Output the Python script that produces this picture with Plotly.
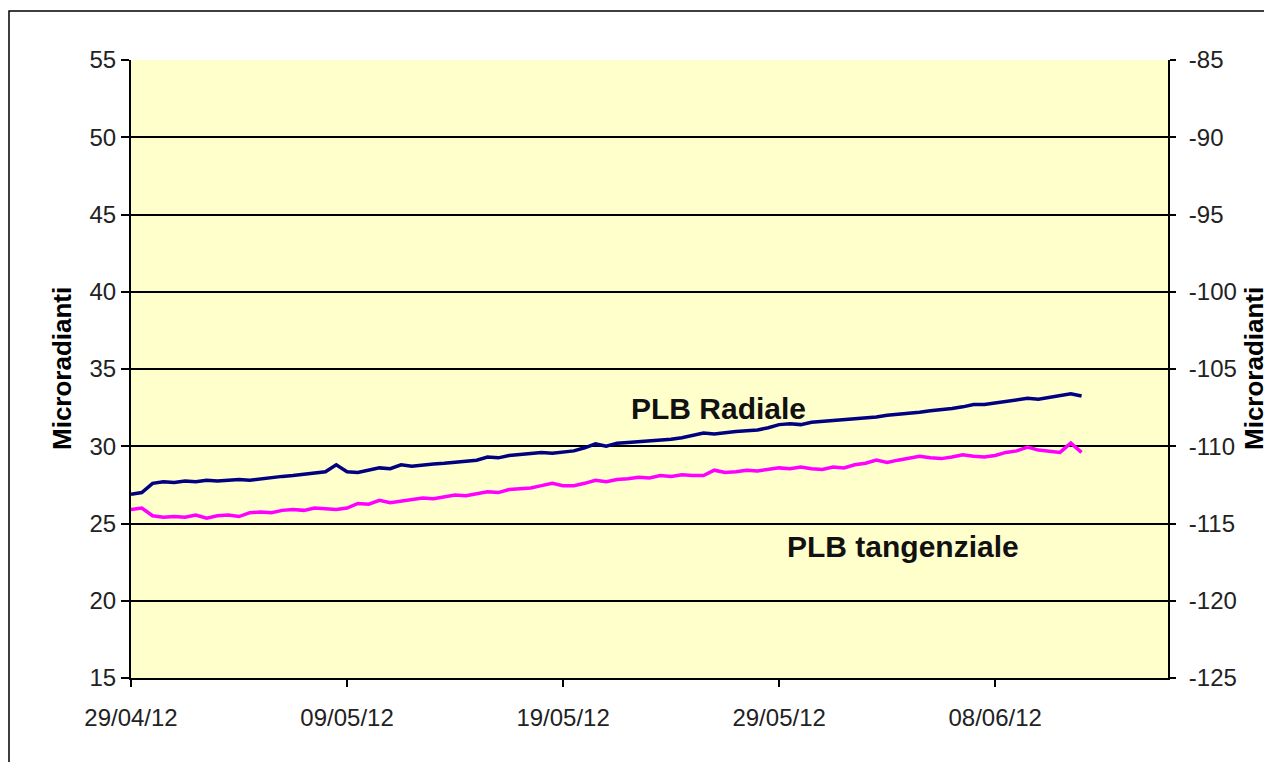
import plotly.graph_objects as go
import pandas as pd

# half-day sampling timestamps, from 29/04/12 00:00
start = pd.Timestamp("2012-04-29")
radiale = [26.9, 27.0, 27.6, 27.7, 27.65, 27.75, 27.7, 27.8, 27.75, 27.8,
           27.85, 27.8, 27.9, 27.95, 28.05, 28.1, 28.2, 28.3, 28.35, 28.8,
           28.35, 28.3, 28.45, 28.6, 28.55, 28.8, 28.7, 28.8, 28.85, 28.9,
           28.95, 29.05, 29.1, 29.3, 29.25, 29.4, 29.45, 29.5, 29.6, 29.55,
           29.6, 29.7, 29.9, 30.15, 30.0, 30.2, 30.25, 30.3, 30.3, 30.4,
           30.45, 30.55, 30.7, 30.85, 30.8, 30.9, 30.95, 31.0, 31.05, 31.2,
           31.4, 31.45, 31.4, 31.55, 31.6, 31.65, 31.7, 31.75, 31.85, 31.9,
           32.0, 32.05, 32.15, 32.2, 32.3, 32.35, 32.45, 32.55, 32.7, 32.7,
           32.8, 32.9, 32.95, 33.1, 33.05, 33.15, 33.3, 33.4, 33.25]
tangenziale = [25.9, 26.0, 25.5, 25.4, 25.45, 25.4, 25.55, 25.35, 25.5, 25.55,
               25.45, 25.7, 25.75, 25.7, 25.85, 25.9, 25.85, 26.0, 25.95, 25.9,
               26.0, 26.3, 26.25, 26.5, 26.35, 26.45, 26.55, 26.65, 26.6, 26.75,
               26.85, 26.8, 26.95, 27.05, 27.0, 27.2, 27.25, 27.3, 27.45, 27.6,
               27.45, 27.45, 27.6, 27.8, 27.7, 27.85, 27.9, 28.0, 27.95, 28.1,
               28.05, 28.15, 28.1, 28.1, 28.45, 28.3, 28.35, 28.45, 28.4, 28.5,
               28.6, 28.55, 28.65, 28.55, 28.5, 28.65, 28.6, 28.8, 28.9, 29.1,
               28.95, 29.1, 29.2, 29.35, 29.25, 29.2, 29.3, 29.45, 29.35, 29.3,
               29.4, 29.6, 29.7, 29.95, 29.75, 29.7, 29.6, 30.2, 29.6]
dates = [start + pd.Timedelta(hours=12 * i) for i in range(len(radiale))]

x_tickvals = ["2012-04-29", "2012-05-09", "2012-05-19", "2012-05-29", "2012-06-08"]
x_ticktext = ["29/04/12", "09/05/12", "19/05/12", "29/05/12", "08/06/12"]
left_ticks = [15, 20, 25, 30, 35, 40, 45, 50, 55]
right_ticks = [-125, -120, -115, -110, -105, -100, -95, -90, -85]
right_text = ["-125", "-120", "-115", "-110", "-105", "-100", "-95", "-90", "-85"]

font_family = "Liberation Sans, Arial, sans-serif"

# plot area in figure pixels
L, R, T, B = 123, 1160, 52, 670
W, H = 1272, 762
PW, PH = R - L, B - T


def px(x):
    return (x - L) / PW


def py(y):
    return (B - y) / PH


fig = go.Figure()
fig.add_trace(go.Scatter(x=dates, y=radiale, mode="lines", name="PLB Radiale",
                         line=dict(color="#000080", width=3.5)))
fig.add_trace(go.Scatter(x=dates, y=tangenziale, mode="lines", name="PLB tangenziale",
                         line=dict(color="#FF00FF", width=3.5)))
# invisible trace to carry the right axis
fig.add_trace(go.Scatter(x=[dates[0]], y=[-125], yaxis="y2", mode="markers",
                         marker=dict(opacity=0), showlegend=False, hoverinfo="skip"))

fig.update_layout(
    width=W, height=H,
    margin=dict(l=L, r=W - R, t=T, b=H - B),
    paper_bgcolor="white",
    plot_bgcolor="#FFFFCC",
    showlegend=False,
    font=dict(family=font_family, size=24, color="#222222"),
    xaxis=dict(
        type="date",
        range=["2012-04-29", "2012-06-16"],
        tickvals=x_tickvals, ticktext=x_ticktext,
        ticks="outside", ticklen=7, tickcolor="black", tickwidth=1.5,
        showline=True, linecolor="black", linewidth=2,
        showgrid=False, zeroline=False,
        tickfont=dict(size=24),
        ticklabelstandoff=10,
    ),
    yaxis=dict(
        range=[15, 55], tickvals=left_ticks,
        ticks="outside", ticklen=8, tickcolor="black", tickwidth=1.5,
        showline=True, linecolor="black", linewidth=2,
        showgrid=True, gridcolor="black", gridwidth=1.5, zeroline=False,
        tickfont=dict(size=24),
    ),
    yaxis2=dict(
        range=[-125, -85], tickvals=right_ticks, ticktext=right_text,
        overlaying="y", side="right",
        ticks="outside", ticklen=6, tickcolor="black", tickwidth=1.5,
        showline=True, linecolor="black", linewidth=2,
        showgrid=False, zeroline=False,
        tickfont=dict(size=24),
        ticklabelstandoff=8,
    ),
)

ann = dict(xref="paper", yref="paper", showarrow=False,
           xanchor="center", yanchor="middle")
fig.add_annotation(text="<b>Microradianti</b>", x=px(54), y=0.5, textangle=-90,
                   font=dict(size=26, color="black"), **ann)
fig.add_annotation(text="<b>Microradianti</b>", x=px(1246), y=0.5, textangle=-90,
                   font=dict(size=26, color="black"), **ann)
fig.add_annotation(text="<b>PLB Radiale</b>", x=px(710), y=py(400),
                   font=dict(size=30, color="#111111"), **ann)
fig.add_annotation(text="<b>PLB tangenziale</b>", x=px(895), y=py(538),
                   font=dict(size=30, color="#111111"), **ann)

# outer frame of the chart
fig.add_shape(type="rect", xref="paper", yref="paper",
              x0=px(1), x1=px(1262),
              y0=py(800), y1=py(3),
              line=dict(color="black", width=1.5), layer="below")

fig.write_html("out.html")
